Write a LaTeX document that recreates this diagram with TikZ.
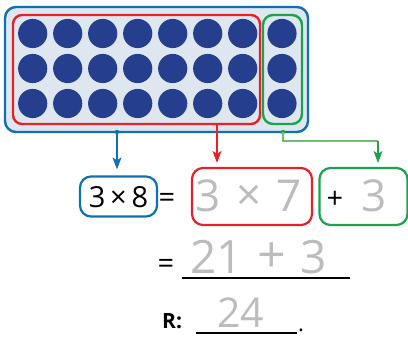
\documentclass[tikz,border=0pt]{standalone}
\usepackage{fontspec}
\setmainfont{Open Sans}
\usetikzlibrary{arrows.meta}
\definecolor{cblue}{RGB}{16,112,180}
\definecolor{cfill}{RGB}{222,230,240}
\definecolor{cdot}{RGB}{37,62,142}
\definecolor{cred}{RGB}{232,32,42}
\definecolor{cgreen}{RGB}{26,163,74}
\definecolor{clgreen}{RGB}{110,190,110}
\definecolor{cgray}{RGB}{188,188,188}
\tikzset{
  grp/.style={draw, line width=2.4pt, inner sep=0pt},
  eqbox/.style={draw, line width=2.2pt, rounded corners=11pt, inner sep=0pt},
  bigtxt/.style={inner sep=0pt, font=\fontsize{29}{29}\selectfont},
  graytxt/.style={inner sep=0pt, text=cgray, font=\fontsize{44}{44}\selectfont},
  conn/.style={line width=1.3pt, -{Stealth[length=12pt,width=9pt,inset=3pt]}},
  ul/.style={line width=1.2pt, black},
}
\begin{document}
\begin{tikzpicture}[x=1pt,y=-1pt]
\useasboundingbox (0,0) rectangle (408,337);
% tray
\node[grp, draw=cblue, fill=cfill, rounded corners=11pt, minimum width=303pt, minimum height=125pt] (tray) at (156.5,69.5) {};
\foreach \i in {0,...,6} {
  \foreach \j in {0,1,2} {
    \fill[cdot] (32.7+35*\i, 33.5+35*\j) circle (14.6);
  }
}
\foreach \j in {0,1,2} {
  \fill[cdot] (282, 33.5+35*\j) circle (14.6);
}
\node[grp, draw=cred, rounded corners=9pt, minimum width=247pt, minimum height=109pt] (red) at (136.5,69.5) {};
\node[grp, draw=cgreen, rounded corners=10pt, minimum width=39pt, minimum height=109pt] (green) at (282.5,69.5) {};
% equation row 1
\node[eqbox, draw=cblue, minimum width=77pt, minimum height=40pt] (b8) at (118.5,196.5) {};
\node[bigtxt, anchor=base] (t8) at (118.5,208) {3\,×\,8};
\node[bigtxt, anchor=base] (eqa) at (167,208) {=};
\node[eqbox, draw=cred, minimum width=120pt, minimum height=57pt] (r7) at (252,196.5) {};
\node[graytxt, anchor=base west] (t7a) at (195,212) {3};
\node[graytxt, anchor=base] (t7b) at (249,211) {×};
\node[graytxt, anchor=base west] (t7c) at (276,212) {7};
\node[eqbox, draw=cgreen, minimum width=88pt, minimum height=57pt] (g3) at (363.5,196.5) {};
\node[bigtxt] (plus) at (335,200) {+};
\node[graytxt, anchor=base west] (t3) at (361,212) {3};
% connectors
\coordinate (bs) at (117,132);
\coordinate (rs) at (217,124);
\coordinate (gs) at (283,132);
\coordinate (gc) at (378,141);
\fill[cblue] (bs) circle (2.2);
\draw[conn, cblue, shorten >=6pt] (bs) -- (bs |- b8.north);
\draw[conn, cred, shorten >=4pt] (rs) -- (rs |- r7.north);
\fill[cgreen] (gs) circle (2.2);
\draw[conn, clgreen, -] (gs) |- (gc);
\draw[conn, cgreen, shorten >=4pt] (gc) -- (gc |- g3.north);
% row 2
\node[bigtxt, anchor=base] (eqb) at (166,273) {=};
\coordinate (l2a) at (182,278);
\coordinate (l2b) at (350,278);
\draw[ul] (l2a) -- (l2b);
\node[graytxt, anchor=base west, font=\fontsize{46}{46}\selectfont] (t21a) at (190,273) {21};
\node[graytxt, font=\fontsize{50}{50}\selectfont] (t21b) at (272,258) {+};
\node[graytxt, anchor=base west, font=\fontsize{46}{46}\selectfont] (t21c) at (300,273) {3};
% row 3
\node[inner sep=0pt, anchor=base west, font=\fontsize{21}{21}\selectfont\bfseries] (R) at (162,329) {R:};
\coordinate (l3a) at (196,333);
\coordinate (l3b) at (297,333);
\draw[ul] (l3a) -- (l3b);
\node[inner sep=0pt, anchor=base west, font=\fontsize{22}{22}\selectfont] (dot) at (298,332) {.};
\node[graytxt, anchor=base west, font=\fontsize{41}{41}\selectfont] (t24) at (217,327) {24};
\end{tikzpicture}
\end{document}
